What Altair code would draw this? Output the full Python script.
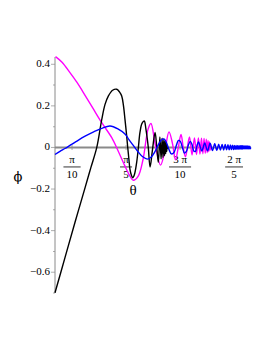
import math
import altair as alt
import pandas as pd

# ---- data ----
black_theta = [0.215, 0.273, 0.331, 0.390, 0.424, 0.458, 0.487, 0.506, 0.525, 0.550, 0.574, 0.590,
               0.603, 0.613, 0.622, 0.631, 0.638, 0.645, 0.651, 0.659, 0.667, 0.677, 0.690, 0.700,
               0.709, 0.721, 0.734, 0.744, 0.757, 0.768, 0.782, 0.797, 0.807, 0.816,
               0.825, 0.832, 0.838, 0.843, 0.848, 0.852, 0.856, 0.859, 0.862, 0.865, 0.867, 0.869, 0.870]
black_phi = [-0.699, -0.530, -0.361, -0.193, -0.096, 0.000, 0.135, 0.207, 0.247, 0.275, 0.280, 0.267,
             0.247, 0.202, 0.135, 0.063, 0.000, -0.058, -0.106, -0.133, -0.146, -0.130, -0.072, 0.000,
             0.071, 0.116, 0.127, 0.087, 0.005, -0.094, -0.010, 0.072, 0.000, -0.072,
             0.050, -0.055, 0.045, -0.048, 0.040, -0.040, 0.032, -0.030, 0.022, -0.018, 0.010, -0.005, 0.000]

magenta_theta = [0.218, 0.256, 0.302, 0.343, 0.380, 0.438, 0.487, 0.545, 0.583, 0.622, 0.651, 0.670,
                 0.699, 0.727, 0.756, 0.773, 0.799, 0.829, 0.855, 0.878, 0.898, 0.916, 0.932, 0.948,
                 0.961, 0.974, 0.997, 1.012, 1.026, 1.038, 1.049, 1.058, 1.067, 1.075, 1.082, 1.089,
                 1.095, 1.100, 1.105, 1.109, 1.113, 1.117, 1.120, 1.123, 1.125]
magenta_phi = [0.437, 0.410, 0.360, 0.313, 0.264, 0.185, 0.119, 0.047, -0.018, -0.090, -0.138, -0.158,
               -0.138, -0.058, 0.087, 0.115, 0.010, -0.085, -0.010, 0.075, 0.020, -0.060, 0.000, 0.062,
               0.000, -0.045, 0.050, -0.036, 0.046, -0.034, 0.046, -0.032, 0.045, -0.030, 0.043, -0.028,
               0.040, -0.025, 0.034, -0.020, 0.026, -0.013, 0.016, -0.006, 0.000]

blue_theta = [0.215, 0.244, 0.273, 0.302, 0.337, 0.390, 0.440, 0.487, 0.535, 0.583, 0.622, 0.645,
              0.670, 0.699, 0.725, 0.752, 0.775, 0.794, 0.814, 0.834, 0.849,
              0.863, 0.878, 0.892, 0.907, 0.921, 0.933, 0.944, 0.956, 0.968, 0.979, 0.991, 1.002,
              1.012, 1.022, 1.032, 1.041, 1.050, 1.059, 1.069, 1.077, 1.086,
              1.102, 1.117, 1.131, 1.144, 1.156, 1.167, 1.177, 1.187, 1.196, 1.205, 1.213, 1.221,
              1.228, 1.235, 1.241, 1.247, 1.253, 1.258, 1.263, 1.268, 1.273, 1.277, 1.281, 1.285,
              1.289, 1.293, 1.297, 1.300, 1.303, 1.306, 1.309, 1.312, 1.315, 1.318, 1.321, 1.324,
              1.327, 1.330, 1.333, 1.336, 1.339, 1.342, 1.345, 1.348, 1.351, 1.354]
blue_phi = [-0.034, -0.019, -0.005, 0.010, 0.028, 0.054, 0.075, 0.092, 0.103, 0.088, 0.065, 0.038,
            0.010, -0.022, -0.045, -0.056, -0.046, -0.024, 0.010, 0.036, 0.041,
            0.024, -0.010, -0.031, -0.024, 0.010, 0.034, 0.029, 0.000, -0.027, -0.019, 0.012, 0.029,
            0.014, -0.017, -0.019, 0.010, 0.027, 0.005, -0.017, 0.000, 0.022,
            -0.016, 0.020, -0.015, 0.018, -0.014, 0.016, -0.013, 0.015, -0.012, 0.014, -0.011, 0.013,
            -0.011, 0.012, -0.010, 0.011, -0.010, 0.010, -0.009, 0.010, -0.009, 0.009, -0.009, 0.009,
            -0.008, 0.008, -0.008, 0.008, -0.008, 0.008, -0.007, 0.007, -0.007, 0.007, -0.007, 0.007,
            -0.007, 0.007, -0.007, 0.007, -0.007, 0.006, -0.006, 0.006, -0.006, 0.000]

x_domain = [0.215, 1.355]
y_domain = [-0.70, 0.435]

tick_values = [math.pi / 10, math.pi / 5, 3 * math.pi / 10, 2 * math.pi / 5]
tick_num = ["π", "π", "3 π", "2 π"]
tick_den = ["10", "5", "10", "5"]
tick_bar_half = [0.050, 0.035, 0.064, 0.052]

y_major = [-0.6, -0.4, -0.2, 0.0, 0.2, 0.4]
y_major_labels = ["−0.6", "−0.4", "−0.2", "0", "0.2", "0.4"]
y_minor = [-0.7, -0.5, -0.3, -0.1, 0.1, 0.3]

for a, b in [(black_theta, black_phi), (magenta_theta, magenta_phi), (blue_theta, blue_phi)]:
    assert len(a) == len(b)

AXIS_GRAY = "#8a8a8a"
SERIF = "Liberation Serif"

xs = alt.Scale(domain=x_domain, nice=False, zero=False)
ys = alt.Scale(domain=y_domain, nice=False, zero=False)


def X(field):
    return alt.X(field, scale=xs, axis=None)


def Y(field):
    return alt.Y(field, scale=ys, axis=None)


def curve(theta, phi, color):
    df = pd.DataFrame({"theta": theta, "phi": phi})
    return alt.Chart(df).mark_line(color=color, strokeWidth=1.4, interpolate="catmull-rom").encode(
        x=X("theta:Q"), y=Y("phi:Q"))


# x axis (crosses at phi = 0)
xaxis_df = pd.DataFrame({"x0": [x_domain[0]], "x1": [x_domain[1]], "y0": [0.0]})
x_axis_line = alt.Chart(xaxis_df).mark_rule(color=AXIS_GRAY, strokeWidth=2).encode(
    x=X("x0:Q"), x2="x1:Q", y=Y("y0:Q"))

ticks_df = pd.DataFrame({
    "t": tick_values, "zero": [0.0] * 4, "num": tick_num, "den": tick_den,
    "lo": [v - h for v, h in zip(tick_values, tick_bar_half)],
    "hi": [v + h for v, h in zip(tick_values, tick_bar_half)],
})
x_ticks = alt.Chart(ticks_df).mark_tick(orient="vertical", size=5, thickness=1, color=AXIS_GRAY).encode(
    x=X("t:Q"), y=Y("zero:Q"))
num_text = alt.Chart(ticks_df).mark_text(font=SERIF, fontSize=11, dy=13, color="black").encode(
    x=X("t:Q"), y=Y("zero:Q"), text="num:N")
den_text = alt.Chart(ticks_df).mark_text(font=SERIF, fontSize=11, dy=28, color="black").encode(
    x=X("t:Q"), y=Y("zero:Q"), text="den:N")
bars = alt.Chart(ticks_df).mark_rule(color="black", strokeWidth=0.8, yOffset=19.5).encode(
    x=X("lo:Q"), x2="hi:Q", y=Y("zero:Q"))

# y axis (at left edge of the theta range)
yaxis_df = pd.DataFrame({"x0": [x_domain[0]], "y0": [y_domain[0]], "y1": [y_domain[1]]})
y_axis_line = alt.Chart(yaxis_df).mark_rule(color=AXIS_GRAY, strokeWidth=1).encode(
    x=X("x0:Q"), y=Y("y0:Q"), y2="y1:Q")

ymaj_df = pd.DataFrame({"x": [x_domain[0]] * len(y_major), "y": y_major, "label": y_major_labels})
y_major_ticks = alt.Chart(ymaj_df).mark_tick(orient="horizontal", size=4, thickness=1,
                                             color=AXIS_GRAY, xOffset=-2).encode(
    x=X("x:Q"), y=Y("y:Q"))
y_labels = alt.Chart(ymaj_df).mark_text(font=SERIF, fontSize=11, align="right", baseline="middle",
                                        dx=-5, color="black").encode(
    x=X("x:Q"), y=Y("y:Q"), text="label:N")

ymin_df = pd.DataFrame({"x": [x_domain[0]] * len(y_minor), "y": y_minor})
y_minor_ticks = alt.Chart(ymin_df).mark_tick(orient="horizontal", size=2, thickness=1,
                                             color=AXIS_GRAY, xOffset=-1).encode(
    x=X("x:Q"), y=Y("y:Q"))

titles_df = pd.DataFrame({"x": [0.669, x_domain[0]], "y": [-0.207, -0.140],
                          "label": ["θ", "ϕ"]})
theta_title = alt.Chart(titles_df.iloc[[0]]).mark_text(font=SERIF, fontSize=15, color="black").encode(
    x=X("x:Q"), y=Y("y:Q"), text="label:N")
phi_title = alt.Chart(titles_df.iloc[[1]]).mark_text(font="DejaVu Serif", fontSize=13, color="black",
                                                     dx=-37).encode(
    x=X("x:Q"), y=Y("y:Q"), text="label:N")

chart = alt.layer(
    x_axis_line, x_ticks, y_axis_line, y_major_ticks, y_minor_ticks, y_labels,
    num_text, bars, den_text,
    curve(magenta_theta, magenta_phi, "#ff00ff"),
    curve(black_theta, black_phi, "#000000"),
    curve(blue_theta, blue_phi, "#0000ff"),
    theta_title, phi_title,
).properties(
    width=196, height=236,
    autosize=alt.AutoSizeParams(type="none"),
    padding={"left": 47, "top": 49, "right": 10, "bottom": 20},
).configure_view(stroke=None)

chart.save("out.html", embed_options={"renderer": "svg", "actions": False})
